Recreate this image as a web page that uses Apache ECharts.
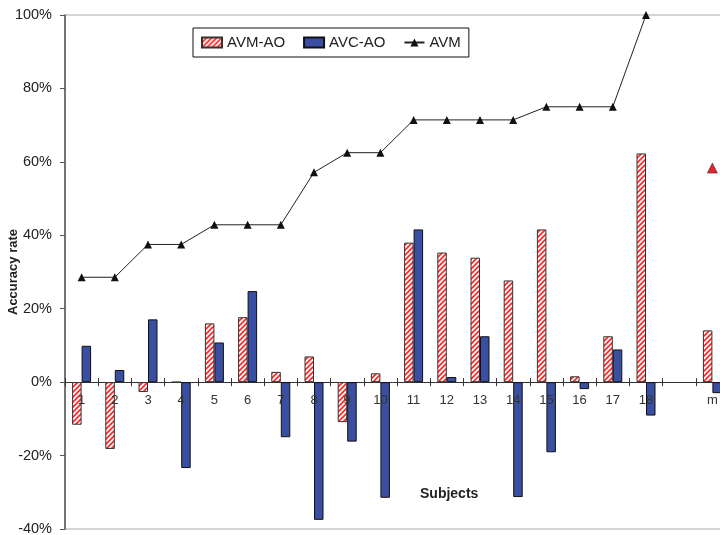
<!DOCTYPE html>
<html>
<head>
<meta charset="utf-8">
<script src="https://cdn.jsdelivr.net/npm/echarts@6/dist/echarts.min.js"></script>
<style>
html,body{margin:0;padding:0;background:#fff;}
#chart{width:720px;height:535px;}
</style>
</head>
<body>
<div id="chart"></div>
<script>
// ---- data ----
var categories = ['1','2','3','4','5','6','7','8','9','10','11','12','13','14','15','16','17','18','','m'];
var avmAO = [-11.6, -18.2, -2.7, 0, 16.0, 17.7, 2.8, 7.0, -10.9, 2.4, 38.0, 35.3, 33.9, 27.7, 41.6, 1.6, 12.5, 62.3, null, 14.1];
var avcAO = [9.9, 3.3, 17.1, -23.4, 10.8, 24.8, -15.0, -37.5, -16.2, -31.5, 41.6, 1.4, 12.5, -31.3, -19.1, -1.9, 8.9, -9.1, null, -3.0];
var avm = [28.57, 28.57, 37.5, 37.5, 42.86, 42.86, 42.86, 57.14, 62.5, 62.5, 71.43, 71.43, 71.43, 71.43, 75, 75, 75, 100, null, 58.3];
var yTicks = [-40, -20, 0, 20, 40, 60, 80, 100];

// hatch pattern
function makeHatch(){
  var c = document.createElement('canvas');
  var s = 5;
  c.width = s; c.height = s;
  var ctx = c.getContext('2d');
  ctx.fillStyle = '#fff';
  ctx.fillRect(0,0,s,s);
  ctx.strokeStyle = '#ff2a2a';
  ctx.lineWidth = 1.8;
  ctx.beginPath();
  ctx.moveTo(-1, s+1); ctx.lineTo(s+1, -1);
  ctx.moveTo(-1, 1); ctx.lineTo(1, -1);
  ctx.moveTo(s-1, s+1); ctx.lineTo(s+1, s-1);
  ctx.stroke();
  return c;
}
var hatch = {image: makeHatch(), repeat: 'repeat'};

var avmData = avm.map(function(v, i){
  if (categories[i] === 'm') {
    return {value: v, itemStyle: {color: '#e8222a', borderColor: '#333', borderWidth: 0.6}, symbolSize: 10};
  }
  return v;
});

var chart = echarts.init(document.getElementById('chart'));
var font = '"Liberation Sans", Arial, sans-serif';
var gridBox = {left: 65, top: 15, width: 664, height: 514, containLabel: false, outerBoundsMode: 'none'};
var yMin = yTicks[0], yMax = yTicks[yTicks.length-1];
// the label axis sits where value 0 is: shift it up from the grid bottom
var zeroOffset = -gridBox.height * (0 - yMin) / (yMax - yMin);

chart.setOption({
  animation: false,
  textStyle: {fontFamily: font},
  grid: [
    Object.assign({show: true, borderColor: '#aaa', borderWidth: 1, backgroundColor: 'transparent'}, gridBox),
    Object.assign({show: false}, gridBox)
  ],
  legend: {
    left: 193, top: 28,
    padding: [7, 8, 7, 8],
    borderColor: '#111', borderWidth: 1,
    itemGap: 18, itemWidth: 20, itemHeight: 10,
    textStyle: {fontSize: 15, color: '#222', fontFamily: font},
    data: [{name: 'AVM-AO', icon: 'rect'}, {name: 'AVC-AO', icon: 'rect'}, {name: 'AVM'}]
  },
  xAxis: [{
    type: 'category',
    gridIndex: 0,
    data: categories,
    position: 'bottom',
    axisLine: {onZero: true, lineStyle: {color: '#333', width: 1}},
    axisTick: {show: true, inside: false, length: 4, lineStyle: {color: '#333'}},
    axisLabel: {show: false},
    splitLine: {show: false}
  }, {
    type: 'category',
    gridIndex: 1,
    data: categories,
    position: 'bottom',
    offset: zeroOffset,
    z: 10,
    axisLine: {show: false, onZero: false},
    axisTick: {show: true, inside: true, length: 4, lineStyle: {color: '#333'}},
    axisLabel: {show: true, fontSize: 13, color: '#333', margin: 12, interval: 0, fontFamily: font},
    splitLine: {show: false}
  }],
  yAxis: [{
    type: 'value',
    gridIndex: 0,
    min: yMin, max: yMax, interval: 20,
    name: 'Accuracy rate',
    nameLocation: 'middle',
    nameGap: 45,
    nameMoveOverlap: false,
    nameTextStyle: {fontSize: 13, fontWeight: 'bold', color: '#222', fontFamily: font},
    axisLine: {show: true, onZero: false, lineStyle: {color: '#555', width: 1.5}},
    axisTick: {show: true, length: 5, lineStyle: {color: '#555'}},
    axisLabel: {fontSize: 14.5, color: '#222', margin: 13, formatter: '{value}%', fontFamily: font},
    splitLine: {show: false}
  }, {
    type: 'value',
    gridIndex: 1,
    min: yMin, max: yMax, interval: 20,
    axisLine: {show: false, onZero: false},
    axisTick: {show: false},
    axisLabel: {show: false},
    splitLine: {show: false}
  }],
  graphic: [{
    type: 'text', left: 420, top: 487,
    style: {text: 'Subjects', font: 'bold 14px ' + font, fill: '#222'}
  }],
  series: [{
    name: 'AVM-AO', type: 'bar', data: avmAO,
    barWidth: 9.5, barGap: '0%',
    itemStyle: {color: hatch, borderColor: '#333', borderWidth: 1}
  }, {
    name: 'AVC-AO', type: 'bar', data: avcAO,
    barWidth: 9.5,
    itemStyle: {color: '#3a4fa2', borderColor: '#111', borderWidth: 1}
  }, {
    name: 'AVM', type: 'line', data: avmData,
    symbol: 'triangle', symbolSize: 8,
    connectNulls: false,
    itemStyle: {color: '#111'},
    lineStyle: {color: '#222', width: 1},
    z: 5
  }]
});
</script>
</body>
</html>
